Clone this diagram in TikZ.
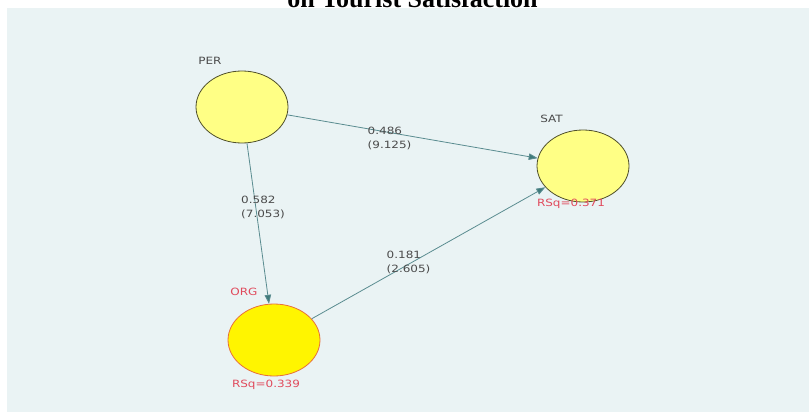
\documentclass[tikz,border=0pt]{standalone}
\usepackage{fontspec}
\usetikzlibrary{shapes.geometric,arrows.meta}
\newfontfamily\labfont[FakeStretch=1.2]{DejaVu Sans}
\setmainfont{Liberation Serif}
\definecolor{panel}{HTML}{EAF3F4}
\definecolor{lty}{HTML}{FFFF85}
\definecolor{lyborder}{HTML}{4F4F2A}
\definecolor{brty}{HTML}{FFF500}
\definecolor{orgborder}{HTML}{E8703A}
\definecolor{arrc}{HTML}{5A8C90}
\definecolor{tipc}{HTML}{3F7A7A}
\definecolor{labgray}{HTML}{4A4A4A}
\definecolor{labred}{HTML}{E04A5C}
\tikzset{
  lv/.style={ellipse, minimum width=92pt, minimum height=72pt, inner sep=0pt},
  lvlight/.style={lv, fill=lty, draw=lyborder, line width=0.8pt},
  lvorg/.style={lv, fill=brty, draw=orgborder, line width=0.8pt},
  arr/.style={draw=arrc, line width=0.8pt, -{Triangle[length=9pt,width=6.5pt,fill=tipc]}},
  lab/.style={font=\labfont\fontsize{10}{14}\selectfont, text=labgray, inner sep=0pt},
  redlab/.style={lab, text=labred},
  coef/.style={lab, align=left, anchor=west}
}
\begin{document}
\begin{tikzpicture}[x=1pt,y=-1pt]
\useasboundingbox (0,0) rectangle (810,412);
\fill[panel] (7,8) rectangle (809,412);
\node[font=\bfseries\fontsize{26}{30}\selectfont, anchor=base, inner sep=0pt] (title) at (412.5,7.5) {on Tourist Satisfaction};
\node[lvlight] (per) at (242,107) {};
\node[lvlight] (sat) at (583,166) {};
\node[lvorg] (org) at (274,340) {};
\node[lab] (perlab) at (210,61) {PER};
\node[lab] (satlab) at (551.5,119) {SAT};
\node[redlab] (orglab) at (244,292) {ORG};
\node[redlab] (satrsq) at (571,204) {RSq=0.371};
\node[redlab] (orgrsq) at (266,384.5) {RSq=0.339};
\draw[arr] (per) -- (sat);
\draw[arr] (per) -- (org);
\draw[arr] (org) -- (sat);
\node[coef] (c1) at (367.5,138) {0.486\\(9.125)};
\node[coef] (c2) at (241,207) {0.582\\(7.053)};
\node[coef] (c3) at (386.5,262) {0.181\\(2.605)};
\end{tikzpicture}
\end{document}
